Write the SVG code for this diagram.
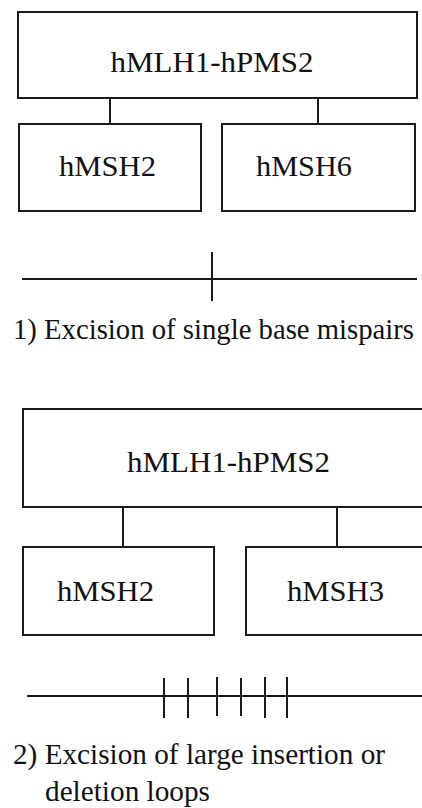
<svg xmlns="http://www.w3.org/2000/svg" width="422" height="808" viewBox="0 0 422 808">
<style>
.box{fill:#fff;stroke:#1a1a1a;stroke-width:2}
.ln{stroke:#1a1a1a;stroke-width:2;fill:none}
.t{font-size:29px;fill:#111}
.c{text-anchor:middle}
</style>
<rect width="422" height="808" fill="#fff"/>
<g id="connectors">
<line class="ln" x1="110" y1="98" x2="110" y2="124"/>
<line class="ln" x1="318" y1="98" x2="318" y2="124"/>
<line class="ln" x1="123" y1="507" x2="123" y2="547"/>
<line class="ln" x1="337" y1="507" x2="337" y2="547"/>
</g>
<g font-family="Liberation Serif, DejaVu Serif, serif">
<g id="top1">
<rect class="box" x="18" y="12" width="399" height="86"/>
<text class="t c" x="212" y="72" textLength="203" lengthAdjust="spacingAndGlyphs">hMLH1-hPMS2</text>
</g>
<g id="msh2a">
<rect class="box" x="19" y="124" width="182" height="87"/>
<text class="t" x="59" y="176" textLength="97" lengthAdjust="spacingAndGlyphs">hMSH2</text>
</g>
<g id="msh6">
<rect class="box" x="222" y="124" width="193" height="87"/>
<text class="t" x="256" y="176" textLength="96" lengthAdjust="spacingAndGlyphs">hMSH6</text>
</g>
<g id="dna1">
<line class="ln" x1="22" y1="279" x2="417" y2="279"/>
<line class="ln" x1="212" y1="252" x2="212" y2="301"/>
</g>
<text id="label1" class="t" x="13" y="339" textLength="401" lengthAdjust="spacingAndGlyphs">1) Excision of single base mispairs</text>
<g id="top2">
<rect class="box" x="23" y="409" width="410" height="98"/>
<text class="t" x="127" y="472" textLength="203" lengthAdjust="spacingAndGlyphs">hMLH1-hPMS2</text>
</g>
<g id="msh2b">
<rect class="box" x="23" y="547" width="191" height="88"/>
<text class="t" x="57" y="601" textLength="97" lengthAdjust="spacingAndGlyphs">hMSH2</text>
</g>
<g id="msh3">
<rect class="box" x="246" y="547" width="190" height="88"/>
<text class="t" x="287" y="601" textLength="97" lengthAdjust="spacingAndGlyphs">hMSH3</text>
</g>
<g id="dna2">
<line class="ln" x1="27" y1="696" x2="422" y2="696"/>
<line class="ln" x1="164" y1="678" x2="164" y2="718"/>
<line class="ln" x1="188" y1="678" x2="188" y2="718"/>
<line class="ln" x1="217" y1="677" x2="217" y2="716"/>
<line class="ln" x1="241" y1="678" x2="241" y2="716"/>
<line class="ln" x1="265" y1="677" x2="265" y2="718"/>
<line class="ln" x1="287" y1="677" x2="287" y2="718"/>
</g>
<g id="label2">
<text class="t" x="13" y="764" textLength="372" lengthAdjust="spacingAndGlyphs">2) Excision of large insertion or</text>
<text class="t" x="45" y="801" textLength="165" lengthAdjust="spacingAndGlyphs">deletion loops</text>
</g>
</g>
</svg>
